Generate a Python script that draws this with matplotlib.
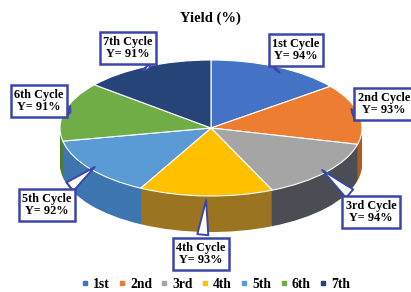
from __future__ import annotations

import matplotlib

matplotlib.use("Agg")
import matplotlib.pyplot as plt
from matplotlib.lines import Line2D
import numpy as np


CYCLES = ["1st", "2nd", "3rd", "4th", "5th", "6th", "7th"]
YIELD = [94, 93, 94, 93, 92, 91, 91]

TOP_COLORS = ["#4472C4", "#ED7D31", "#A5A5A5", "#FFC000", "#5B9BD5", "#70AD47", "#264478"]
SIDE_COLORS = ["#2F5597", "#B05A1F", "#4A4D53", "#9A7420", "#3C75B0", "#4E7F31", "#1B3052"]

# callout box centres, pixel positions in the 411x292 canvas
LABEL_PX = [(296, 50), (384, 104), (371, 212), (201, 254), (47, 205), (39, 101), (128, 48)]

W_PX, H_PX = 411, 292
CX_PX, CY_PX = 211, 128
A_PX, B_PX = 151, 68
THICK = 0.53
BOX_BLUE = "#3A46A8"
SERIF = ["Liberation Serif", "DejaVu Serif"]


def configure_style() -> None:
    plt.rcParams.update(
        {
            "font.family": SERIF,
            "font.weight": "bold",
        }
    )


def build_figure() -> None:
    configure_style()
    fig = plt.figure(figsize=(W_PX / 100, H_PX / 100), dpi=100)
    ax = fig.add_axes([0, 0, 1, 1])

    # side wall: stack of darker pies shifted downwards
    n_layers = 40
    for off in np.linspace(-THICK, 0, n_layers, endpoint=False):
        ax.pie(YIELD, colors=SIDE_COLORS, startangle=90, counterclock=False,
               center=(0, off), radius=1, wedgeprops=dict(linewidth=0))

    wedges, _ = ax.pie(YIELD, colors=TOP_COLORS, startangle=90, counterclock=False,
                       center=(0, 0), radius=1,
                       wedgeprops=dict(linewidth=0.8, edgecolor="white"))

    ax.set_aspect("auto")
    ax.set_xlim(-CX_PX / A_PX, (W_PX - CX_PX) / A_PX)
    ax.set_ylim(-(H_PX - CY_PX) / B_PX, CY_PX / B_PX)
    ax.axis("off")

    for w, name, val, (px, py) in zip(wedges, CYCLES, YIELD, LABEL_PX):
        mid = np.deg2rad((w.theta1 + w.theta2) / 2)
        tip = (0.96 * np.cos(mid), 0.96 * np.sin(mid))
        if np.sin(mid) < -0.9:
            tip = (tip[0], tip[1] - 0.1)
        ax.annotate(
            f"{name} Cycle\nY= {val}%",
            xy=tip, xycoords="data",
            xytext=(px / W_PX, 1 - py / H_PX), textcoords="axes fraction",
            ha="center", va="center", fontsize=8.8, fontweight="bold",
            linespacing=1.0, family=SERIF,
            bbox=dict(boxstyle="square,pad=0.3", fc="white", ec=BOX_BLUE, lw=1.8),
            arrowprops=dict(arrowstyle="wedge,tail_width=0.9", fc="white",
                            ec=BOX_BLUE, lw=1.4, shrinkB=0),
            zorder=10,
        )

    fig.text(0.513, 1 - 18 / H_PX, "Yield (%)", ha="center", va="center",
             fontsize=10.5, fontweight="bold", family=SERIF)

    handles = [Line2D([], [], marker="s", linestyle="none", markersize=3.2,
                      markerfacecolor=c, markeredgecolor=c) for c in TOP_COLORS]
    fig.legend(handles, CYCLES, loc="center", bbox_to_anchor=(0.525, 1 - 284 / H_PX),
               ncol=7, frameon=False, handlelength=0.5,
               handletextpad=0.35, columnspacing=0.65,
               prop=dict(family=SERIF, weight="bold", size=9.8))

    fig.savefig("out.png", dpi=100, facecolor="white")
    plt.close(fig)


def main() -> int:
    build_figure()
    return 0


if __name__ == "__main__":
    raise SystemExit(main())
